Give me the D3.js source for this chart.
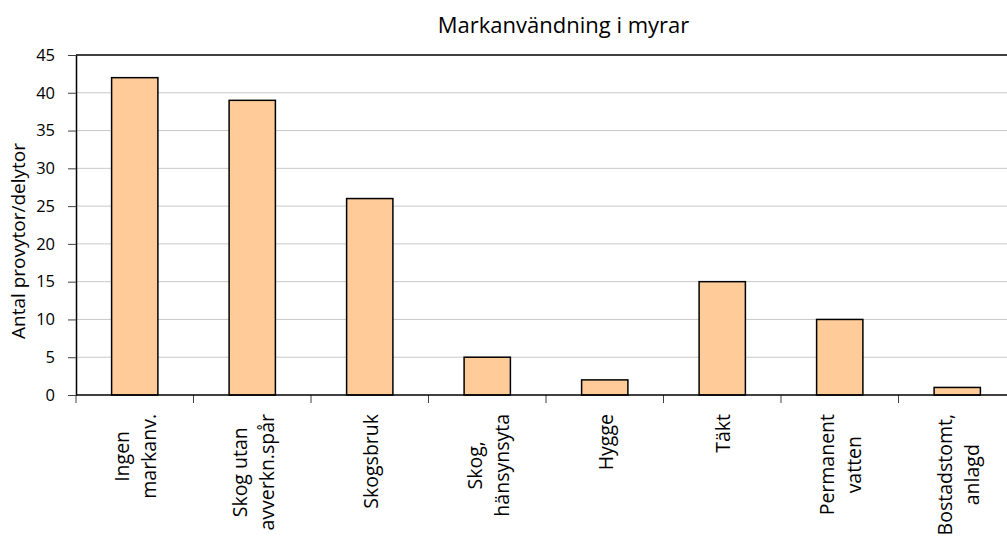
<!DOCTYPE html>
<html>
<head>
<meta charset="utf-8">
<script src="https://cdn.jsdelivr.net/npm/d3@7"></script>
<style>
  html, body { margin: 0; padding: 0; background: #fff; }
  svg { display: block; font-family: "Open Sans", sans-serif; }
</style>
</head>
<body>
<svg id="chart" width="1007" height="539"></svg>
<script>
const title = "Markanvändning i myrar";
const yAxisTitle = "Antal provytor/delytor";
const categories = [
  "Ingen\nmarkanv.",
  "Skog utan\navverkn.spår",
  "Skogsbruk",
  "Skog,\nhänsynsyta",
  "Hygge",
  "Täkt",
  "Permanent\nvatten",
  "Bostadstomt,\nanlagd"
];
const values = [42, 39, 26, 5, 2, 15, 10, 1];
const yTicks = [0, 5, 10, 15, 20, 25, 30, 35, 40, 45];

const svg = d3.select("#chart");
const plot = { left: 76, right: 1016, top: 55, bottom: 395 };

const x = d3.scaleBand().domain(categories).range([plot.left, plot.right]).padding(0);
const y = d3.scaleLinear().domain([0, 45]).range([plot.bottom, plot.top]);

// gridlines
svg.append("g").selectAll("line")
  .data(yTicks.filter(t => t > 0 && t < 45))
  .join("line")
  .attr("x1", plot.left).attr("x2", plot.right)
  .attr("y1", d => y(d)).attr("y2", d => y(d))
  .attr("stroke", "#c8c8c8").attr("stroke-width", 1);

// top border
svg.append("line")
  .attr("x1", plot.left).attr("x2", plot.right)
  .attr("y1", y(45)).attr("y2", y(45))
  .attr("stroke", "#000").attr("stroke-width", 1.3);

// bars
const barFrac = 0.394;
svg.append("g").selectAll("rect")
  .data(categories.map((c, i) => ({ c, v: values[i] })))
  .join("rect")
  .attr("x", d => x(d.c) + x.bandwidth() * (1 - barFrac) / 2)
  .attr("width", x.bandwidth() * barFrac)
  .attr("y", d => y(d.v))
  .attr("height", d => y(0) - y(d.v))
  .attr("fill", "#FFCC99")
  .attr("stroke", "#000")
  .attr("stroke-width", 1.5);

// y axis
const yAxis = svg.append("g")
  .attr("transform", `translate(${plot.left},0)`)
  .call(d3.axisLeft(y).tickValues(yTicks).tickSize(8).tickPadding(13).tickSizeOuter(0));
yAxis.select(".domain").attr("stroke", "#000").attr("stroke-width", 1.5);
yAxis.selectAll(".tick line").attr("stroke", "#404040");
yAxis.selectAll(".tick text").attr("font-size", "16.5px").attr("fill", "#000")
  .attr("font-family", "Open Sans, sans-serif");

// x axis: ticks at category boundaries
const boundaries = categories.map(c => x(c)).concat([plot.right]);
svg.append("g").selectAll("line")
  .data(boundaries)
  .join("line")
  .attr("x1", d => d).attr("x2", d => d)
  .attr("y1", plot.bottom).attr("y2", plot.bottom + 8)
  .attr("stroke", "#404040");
svg.append("line")
  .attr("x1", plot.left).attr("x2", plot.right)
  .attr("y1", plot.bottom).attr("y2", plot.bottom)
  .attr("stroke", "#000").attr("stroke-width", 1.5);

// x labels (rotated, multi-line, centered block anchored near axis)
const labelTop = 414;
const lineGap = 27;
const fontSizeX = 19.5;
categories.forEach(c => {
  const lines = c.split("\n");
  const cx = x(c) + x.bandwidth() / 2;
  const g = svg.append("g");
  const texts = lines.map((ln, i) => g.append("text")
    .attr("font-size", fontSizeX + "px")
    .attr("fill", "#000")
    .attr("text-anchor", "middle")
    .text(ln));
  const maxLen = d3.max(texts, t => t.node().getComputedTextLength());
  const cy = labelTop + maxLen / 2;
  texts.forEach((t, i) => {
    const bx = cx + 8 + (i - (lines.length - 1) / 2) * lineGap;
    t.attr("transform", `translate(${bx},${cy}) rotate(-90)`);
  });
});

// y axis title
svg.append("text")
  .attr("transform", `translate(25,241) rotate(-90)`)
  .attr("text-anchor", "middle")
  .attr("font-size", "19px")
  .attr("fill", "#000")
  .text(yAxisTitle);

// chart title
svg.append("text")
  .attr("x", 563.5).attr("y", 33)
  .attr("text-anchor", "middle")
  .attr("font-size", "22px")
  .attr("fill", "#000")
  .text(title);
</script>
</body>
</html>
